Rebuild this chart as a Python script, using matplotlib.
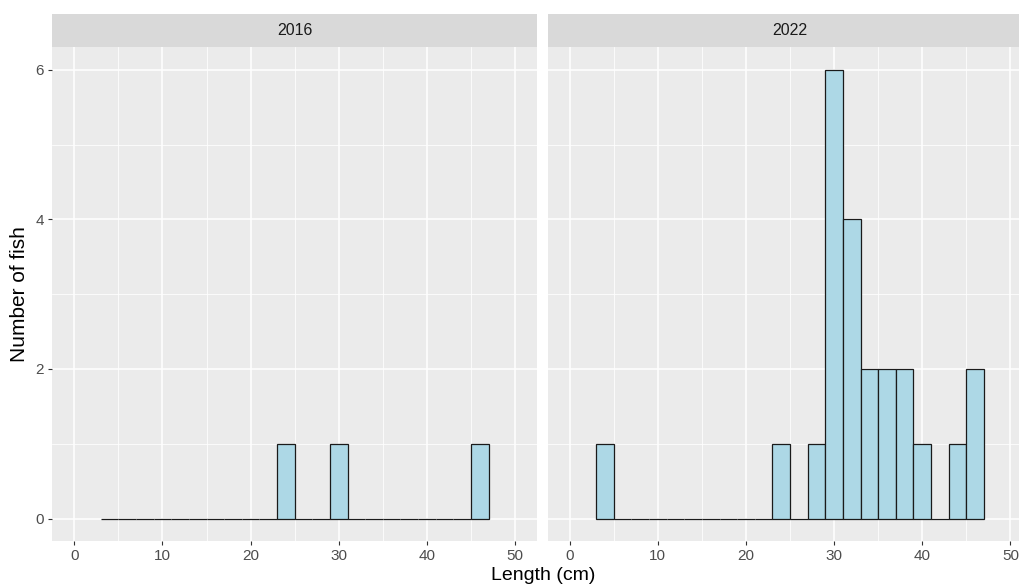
import matplotlib
matplotlib.use("Agg")
import matplotlib.pyplot as plt
import numpy as np

plt.rcParams['font.family'] = ['Liberation Sans', 'DejaVu Sans']

# Data: histogram bins (width 2 cm, from 3 to 47 cm)
bin_edges = [3, 5, 7, 9, 11, 13, 15, 17, 19, 21, 23, 25, 27, 29, 31, 33, 35, 37, 39, 41, 43, 45, 47]
years = ["2016", "2022"]
counts_2016 = [0, 0, 0, 0, 0, 0, 0, 0, 0, 0, 1, 0, 0, 1, 0, 0, 0, 0, 0, 0, 0, 1]
counts_2022 = [1, 0, 0, 0, 0, 0, 0, 0, 0, 0, 1, 0, 1, 6, 4, 2, 2, 2, 1, 0, 1, 2]
x_ticks = [0, 10, 20, 30, 40, 50]
y_ticks = [0, 2, 4, 6]

W, H = 1019, 587
fig = plt.figure(figsize=(W / 100, H / 100), dpi=100)
fig.patch.set_facecolor("white")

def fx(px):
    return px / W

def fy(py):
    return 1 - py / H

panel_top, panel_bot = 47.3, 541.0
strip_top = 14.0
panel_w = 537.0 - 52.3
lefts = [52.3, 547.7]

edges = np.array(bin_edges)
lefts_bins = edges[:-1]
widths = np.diff(edges)

for i, (year, counts) in enumerate(zip(years, [counts_2016, counts_2022])):
    ax = fig.add_axes([fx(lefts[i]), fy(panel_bot), panel_w / W, (panel_bot - panel_top) / H])
    ax.set_facecolor("#EBEBEB")
    ax.bar(lefts_bins, counts, width=widths, align="edge",
           facecolor="#ADD8E6", edgecolor="#1A1A1A", linewidth=0.9, zorder=3)
    ax.set_xlim(-2.5, 52.5)
    ax.set_ylim(-0.3, 6.3)
    ax.set_xticks(x_ticks)
    ax.set_yticks(y_ticks)
    ax.set_xticks([5, 15, 25, 35, 45], minor=True)
    ax.set_yticks([1, 3, 5], minor=True)
    ax.grid(which="major", color="white", linewidth=1.1, zorder=0)
    ax.grid(which="minor", color="white", linewidth=0.55, zorder=0)
    ax.set_axisbelow(True)
    for s in ax.spines.values():
        s.set_visible(False)
    ax.tick_params(axis="both", which="major", direction="out", length=3,
                   width=0.8, color="#333333", labelcolor="#4D4D4D",
                   labelsize=11, pad=3)
    ax.tick_params(axis="both", which="minor", length=0)
    if i == 1:
        ax.tick_params(axis="y", which="major", left=False, labelleft=False)
    # strip
    sax = fig.add_axes([fx(lefts[i]), fy(panel_top), panel_w / W, (panel_top - strip_top) / H])
    sax.set_facecolor("#D9D9D9")
    sax.set_xticks([])
    sax.set_yticks([])
    for s in sax.spines.values():
        s.set_visible(False)
    sax.text(0.5, 0.5, year, transform=sax.transAxes, ha="center", va="center",
             fontsize=11.5, color="#1A1A1A")

fig.text(fx(543), fy(576), "Length (cm)", ha="center", va="center", fontsize=14, color="black")
fig.text(fx(20), fy((panel_top + panel_bot) / 2), "Number of fish", ha="center", va="center",
         rotation=90, fontsize=15, color="black")

fig.savefig("out.png", dpi=100)
